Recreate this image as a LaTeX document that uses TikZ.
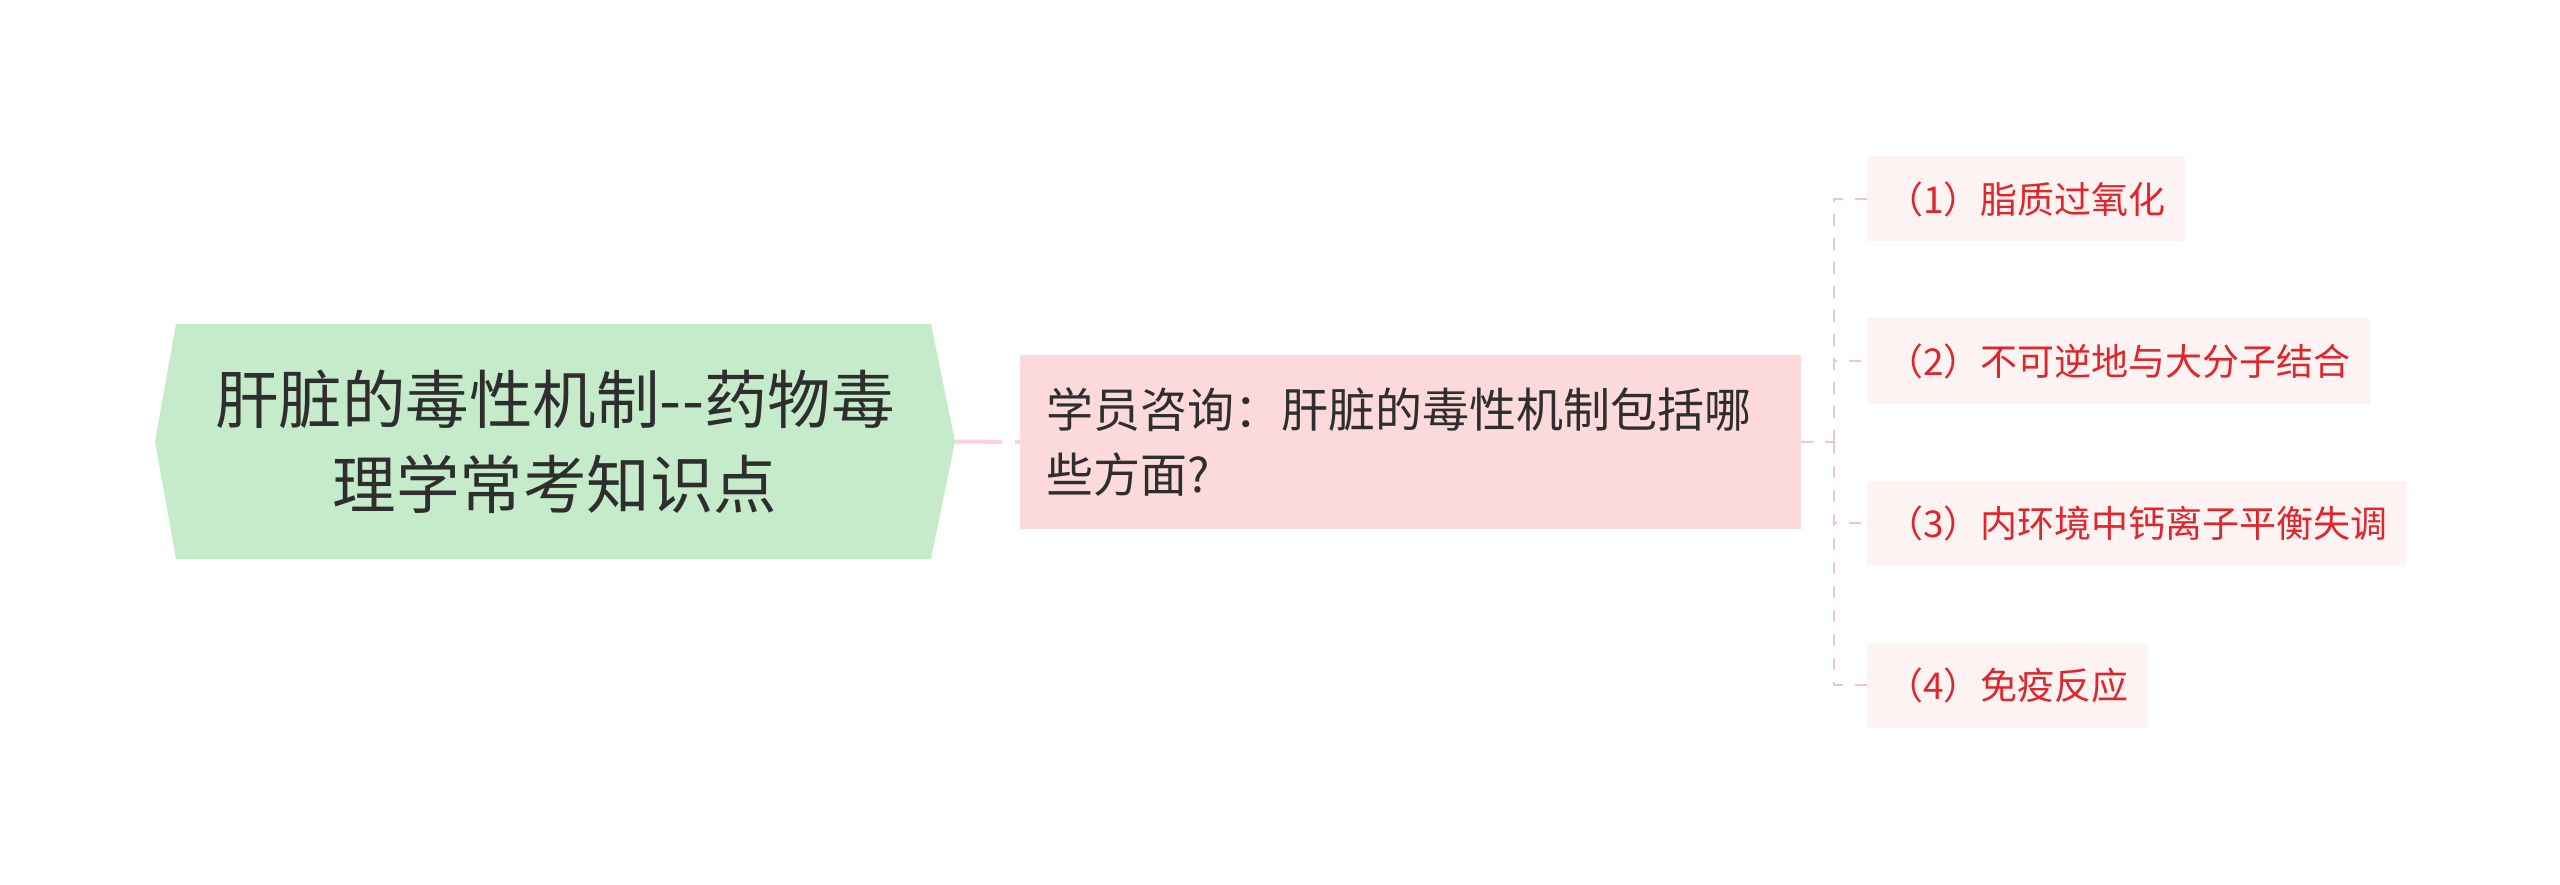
\documentclass[tikz,border=0pt]{standalone}
\usepackage{fontspec}
\setmainfont{Noto Sans CJK SC}
\definecolor{rootfill}{HTML}{C5EBCB}
\definecolor{qfill}{HTML}{FCDADB}
\definecolor{cfill}{HTML}{FDF3F3}
\definecolor{ctext}{HTML}{E0262B}
\definecolor{dtext}{HTML}{2E2E2E}
\definecolor{lnthick}{HTML}{F9D3D5}
\definecolor{lnthin}{HTML}{F0C6CC}
\tikzset{
  roottext/.style={minimum width=800pt, minimum height=235pt, inner sep=0pt, align=center, text=dtext, font=\fontsize{63.5}{85}\selectfont},
  qbox/.style={fill=qfill, minimum width=781pt, minimum height=174pt, inner sep=0pt, text width=729pt, align=left, text=dtext, font=\fontsize{47}{65}\selectfont},
  childbox/.style={fill=cfill, anchor=west, inner xsep=19pt, inner ysep=0pt, minimum height=85pt, text=ctext, font=\fontsize{37}{44}\selectfont},
  thickconn/.style={draw=lnthick, line width=4pt, dash pattern=on 47pt off 13pt},
  thinconn/.style={draw=lnthin, line width=2.5pt, dash pattern=on 12pt off 12pt},
}
\begin{document}
\begin{tikzpicture}[x=1pt,y=-1pt]
\useasboundingbox (0,0) rectangle (2560,885);
\node[roottext] (root) at (555,441.5) {};
\fill[rootfill] (155,441.5) -- (176,324) -- (931,324) -- (955,441.5) -- (931,559) -- (176,559) -- cycle;
\node[roottext] at (root.center) {肝脏的毒性机制-{}-药物毒\\理学常考知识点};
\node[qbox] (q) at (1410.5,442) {学员咨询：肝脏的毒性机制包括哪\\些方面?};
\node[childbox] (c1) at (1867,199) {（1）脂质过氧化};
\node[childbox] (c2) at (1867,361) {（2）不可逆地与大分子结合};
\node[childbox] (c3) at (1867,523) {（3）内环境中钙离子平衡失调};
\node[childbox] (c4) at (1867,685) {（4）免疫反应};
\coordinate (sp) at ([xshift=33pt]q.east);
\draw[thickconn] (root.east) -- (q.west);
\draw[thinconn] (q.east) -- (sp);
\foreach \c in {c1,c2,c3,c4} {\draw[thinconn] (sp) |- (\c.west);}
\end{tikzpicture}
\end{document}
